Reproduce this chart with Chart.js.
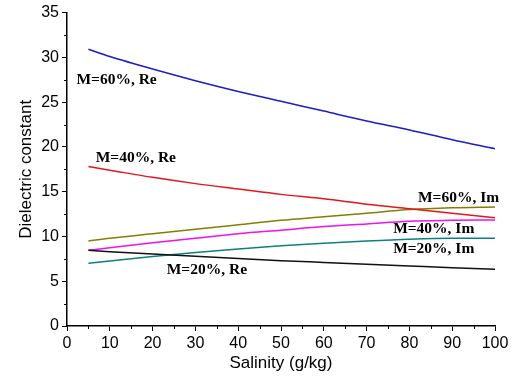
<!DOCTYPE html>
<html>
<head>
<meta charset="utf-8">
<script src="https://cdn.jsdelivr.net/npm/chart.js@4"></script>
<style>
  html, body { margin: 0; padding: 0; background: #fff; }
  #wrap { width: 522px; height: 379px; }
</style>
</head>
<body>
<div id="wrap"><canvas id="chart"></canvas></div>
<script>
// salinity (g/kg)
const salinity = [5, 10, 20, 30, 40, 50, 60, 70, 80, 90, 100];

// dielectric constant, real parts
const re60 = [30.9, 30.1, 28.7, 27.4, 26.2, 25.1, 24.0, 22.9, 21.9, 20.8, 19.8];
const re40 = [17.8, 17.4, 16.6, 15.9, 15.3, 14.7, 14.2, 13.6, 13.1, 12.6, 12.1];
const re20 = [8.45, 8.3, 8.05, 7.8, 7.55, 7.3, 7.1, 6.9, 6.7, 6.5, 6.35];

// imaginary parts
const im60 = [9.5, 9.8, 10.3, 10.8, 11.3, 11.8, 12.2, 12.6, 13.0, 13.2, 13.3];
const im40 = [8.45, 8.75, 9.3, 9.8, 10.3, 10.7, 11.1, 11.4, 11.7, 11.8, 11.85];
const im20 = [7.0, 7.25, 7.75, 8.2, 8.6, 8.95, 9.25, 9.5, 9.7, 9.8, 9.8];

const xTicks = [0, 10, 20, 30, 40, 50, 60, 70, 80, 90, 100];
const yTicks = [0, 5, 10, 15, 20, 25, 30, 35];

// curve labels: [text, x, y] in data units (left edge, middle)
const curveLabels = [
  ["M=60%, Re", 2.2, 27.5],
  ["M=40%, Re", 6.7, 18.8],
  ["M=60%, Im", 82, 14.3],
  ["M=40%, Im", 76.2, 10.8],
  ["M=20%, Im", 76.2, 8.55],
  ["M=20%, Re", 23.3, 6.2],
];

const pts = (ys) => salinity.map((x, i) => ({ x: x, y: ys[i] }));

function series(label, ys, color) {
  return {
    label: label,
    data: pts(ys),
    borderColor: color,
    borderWidth: 1.5,
    pointRadius: 0,
    fill: false,
    cubicInterpolationMode: "monotone",
  };
}

//text labels next to the curves
const labelPlugin = {
  id: "curveLabels",
  afterDatasetsDraw(chart) {
    const ctx = chart.ctx;
    const xs = chart.scales.x;
    const ys = chart.scales.y;
    ctx.save();
    ctx.font = "bold 15.5px 'Liberation Serif'";
    ctx.fillStyle = "#000";
    ctx.textBaseline = "middle";
    curveLabels.forEach(([t, x, y]) => {
      ctx.fillText(t, xs.getPixelForValue(x), ys.getPixelForValue(y));
    });
    ctx.restore();
  },
};

//minor tick marks half way between major ones
const minorTicks = {
  id: "minorTicks",
  afterDraw(chart) {
    const ctx = chart.ctx;
    const xs = chart.scales.x;
    const ys = chart.scales.y;
    ctx.save();
    ctx.strokeStyle = "#000";
    ctx.lineWidth = 1;
    ctx.beginPath();
    for (let i = 0; i < xTicks.length - 1; i++) {
      const px = Math.round(xs.getPixelForValue((xTicks[i] + xTicks[i + 1]) / 2)) + 0.5;
      ctx.moveTo(px, xs.top);
      ctx.lineTo(px, xs.top + 3);
    }
    for (let i = 0; i < yTicks.length - 1; i++) {
      const py = Math.round(ys.getPixelForValue((yTicks[i] + yTicks[i + 1]) / 2)) + 0.5;
      ctx.moveTo(ys.right, py);
      ctx.lineTo(ys.right - 3, py);
    }
    ctx.stroke();
    ctx.restore();
  },
};

new Chart(document.getElementById("chart"), {
  type: "line",
  data: {
    datasets: [
      series("M=60%, Re", re60, "#1c1ccc"),
      series("M=40%, Re", re40, "#e8141a"),
      series("M=20%, Re", re20, "#111111"),
      series("M=60%, Im", im60, "#808000"),
      series("M=40%, Im", im40, "#f010f0"),
      series("M=20%, Im", im20, "#0a8080"),
    ],
  },
  options: {
    responsive: true,
    maintainAspectRatio: false,
    animation: false,
    layout: { padding: { top: 11, right: 27, left: 16, bottom: 5 } },
    plugins: {
      legend: { display: false },
      tooltip: { enabled: false },
    },
    scales: {
      x: {
        type: "linear",
        min: 0,
        max: 100,
        afterFit(s) { s.height = 48; },
        ticks: {
          stepSize: 10,
          color: "#000",
          padding: 3,
          maxRotation: 0,
          font: { family: "'Liberation Sans'", size: 16 },
        },
        grid: { drawOnChartArea: false, color: "#000", tickLength: 5, tickWidth: 1 },
        border: { color: "#000", width: 1.5 },
        title: {
          display: true,
          text: "Salinity (g/kg)",
          color: "#000",
          padding: { top: 0, bottom: 0 },
          font: { family: "'Liberation Sans'", size: 17 },
        },
      },
      y: {
        min: 0,
        max: 35,
        afterFit(s) { s.width = 51; },
        ticks: {
          stepSize: 5,
          color: "#000",
          padding: 3,
          font: { family: "'Liberation Sans'", size: 16 },
        },
        grid: { drawOnChartArea: false, color: "#000", tickLength: 5, tickWidth: 1 },
        border: { color: "#000", width: 1.5 },
        title: {
          display: true,
          text: "Dielectric constant",
          color: "#000",
          padding: { top: 0, bottom: 0 },
          font: { family: "'Liberation Sans'", size: 17 },
        },
      },
    },
  },
  plugins: [labelPlugin, minorTicks],
});
</script>
</body>
</html>
